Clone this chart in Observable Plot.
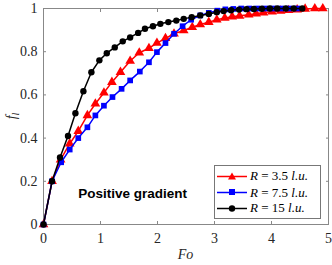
<!DOCTYPE html>
<html>
<head>
<meta charset="utf-8">
<script src="https://cdn.jsdelivr.net/npm/d3@7"></script>
<script src="https://cdn.jsdelivr.net/npm/@observablehq/plot@0.6"></script>
<style>
  body { margin: 0; background: #fff; }
  #wrap { position: relative; width: 332px; height: 265px; }
  #legend { position: absolute; left: 214px; top: 165px; width: 105px; height: 52px;
            border: 1px solid #777; background: #fff; font-family: "Liberation Serif", "Times New Roman", "DejaVu Serif", serif;
            font-size: 13px; color: #000; }
  .row { position: absolute; left: 0; height: 16px; display: flex; align-items: center; }
  .row svg { margin-left: 2px; }
  .row span { margin-left: 3px; white-space: nowrap; }
  i { font-style: italic; }
</style>
</head>
<body>
<div id="wrap"></div>
<script>
// Series R = 3.5 l.u. (red, triangles)
const foR35 = [0, 0.15, 0.30, 0.46, 0.61, 0.77, 0.91, 1.06, 1.20, 1.35, 1.52, 1.68, 1.85, 1.99, 2.14, 2.29, 2.46, 2.61, 2.75, 2.90, 3.04, 3.18, 3.31, 3.44, 3.60, 3.73, 3.86, 4.01, 4.16, 4.30, 4.45, 4.59, 4.76, 4.90];
const fR35  = [0, 0.20, 0.30, 0.374, 0.432, 0.505, 0.559, 0.61, 0.659, 0.705, 0.757, 0.795, 0.816, 0.84, 0.862, 0.883, 0.898, 0.913, 0.926, 0.937, 0.948, 0.956, 0.962, 0.966, 0.971, 0.976, 0.981, 0.985, 0.989, 0.992, 0.995, 0.998, 1.0, 1.0];
// Series R = 7.5 l.u. (blue, squares)
const foR75 = [0, 0.15, 0.31, 0.46, 0.61, 0.77, 0.91, 1.06, 1.21, 1.37, 1.52, 1.69, 1.85, 1.99, 2.14, 2.29, 2.44, 2.59, 2.75, 2.90, 3.05, 3.19, 3.33, 3.47, 3.61, 3.75, 3.89, 4.03, 4.17, 4.31, 4.45];
const fR75  = [0, 0.20, 0.288, 0.347, 0.40, 0.45, 0.505, 0.55, 0.59, 0.628, 0.667, 0.708, 0.751, 0.798, 0.84, 0.883, 0.918, 0.948, 0.968, 0.98, 0.99, 0.996, 0.998, 1, 1, 1, 1, 1, 1, 1, 1];
// Series R = 15 l.u. (black, circles)
const foR15 = [0, 0.15, 0.29, 0.43, 0.56, 0.70, 0.84, 0.98, 1.11, 1.25, 1.39, 1.52, 1.66, 1.78, 1.92, 2.05, 2.19, 2.33, 2.46, 2.60, 2.75, 2.90, 3.04, 3.16, 3.29, 3.43, 3.56, 3.69, 3.83, 3.97, 4.10, 4.25, 4.39, 4.54];
const fR15  = [0, 0.20, 0.31, 0.41, 0.515, 0.617, 0.705, 0.76, 0.793, 0.82, 0.848, 0.866, 0.887, 0.906, 0.918, 0.929, 0.937, 0.944, 0.952, 0.960, 0.968, 0.975, 0.983, 0.988, 0.992, 0.995, 0.997, 0.998, 0.999, 1, 1, 1, 1, 1];

const xTicks = [0, 1, 2, 3, 4, 5];
const yTicks = [0, 0.2, 0.4, 0.6, 0.8, 1];
const seriesNames = ["R = 3.5 l.u.", "R = 7.5 l.u.", "R = 15 l.u."];
const annotation = "Positive gradient";

const SERIF = "Liberation Serif, Times New Roman, DejaVu Serif, serif";
const toRows = (xs, ys) => xs.map((x, i) => ({x, y: ys[i]}));
const red = toRows(foR35, fR35), blue = toRows(foR75, fR75), black = toRows(foR15, fR15);

const plot = Plot.plot({
  width: 332, height: 265,
  marginLeft: 43, marginRight: 4, marginTop: 8, marginBottom: 41,
  style: {fontFamily: SERIF, fontSize: "14px", background: "#fff", color: "#262626"},
  x: {domain: [0, 5]},
  y: {domain: [0, 1]},
  marks: [
    Plot.frame({stroke: "#888"}),
    Plot.axisX(xTicks, {anchor: "bottom", tickSize: -3, tickPadding: 12, label: null, stroke: "#888", fill: "#262626", fontFamily: SERIF, fontSize: 14, tickFormat: d => String(d)}),
    Plot.axisX(xTicks, {anchor: "top", tickSize: -3, label: null, stroke: "#888", tickFormat: () => ""}),
    Plot.axisY(yTicks, {anchor: "left", tickSize: -3, tickPadding: 9, label: null, stroke: "#888", fill: "#262626", fontFamily: SERIF, fontSize: 14, tickFormat: d => String(d)}),
    Plot.axisY(yTicks, {anchor: "right", tickSize: -3, label: null, stroke: "#888", tickFormat: () => ""}),
    Plot.line(red, {x: "x", y: "y", stroke: "#ff0000", strokeWidth: 1.5}),
    Plot.dot(red, {x: "x", y: "y", symbol: "triangle", fill: "#ff0000", r: 3.6}),
    Plot.line(blue, {x: "x", y: "y", stroke: "#0000ff", strokeWidth: 1.5}),
    Plot.dot(blue, {x: "x", y: "y", symbol: "square", fill: "#0000ff", r: 3.2}),
    Plot.line(black, {x: "x", y: "y", stroke: "#000", strokeWidth: 1.5}),
    Plot.dot(black, {x: "x", y: "y", symbol: "circle", fill: "#000", r: 3.2}),
    Plot.text([annotation], {x: 0.61, y: 0.145, text: d => d, textAnchor: "start", fontFamily: "Liberation Sans, Arial, sans-serif", fontWeight: "bold", fontSize: 13.5, fill: "#000"})
  ]
});

const wrap = document.getElementById("wrap");
wrap.appendChild(plot);

// axis titles
const svg = d3.select(plot);
const yl = svg.append("text")
  .attr("transform", "translate(16,116) rotate(-90)")
  .attr("text-anchor", "middle")
  .attr("font-family", SERIF)
  .attr("font-size", 14)
  .attr("font-style", "italic")
  .attr("fill", "#262626");
yl.append("tspan").text("f");
yl.append("tspan").attr("font-size", 10).attr("dy", 3).text("l");

svg.append("text")
  .attr("x", 185.5).attr("y", 259)
  .attr("text-anchor", "middle")
  .attr("font-family", SERIF)
  .attr("font-size", 14)
  .attr("font-style", "italic")
  .attr("fill", "#262626")
  .text("Fo");

// legend
const legend = document.createElement("div");
legend.id = "legend";
const colors = ["#ff0000", "#0000ff", "#000000"];
const symbols = ["triangle", "square", "circle"];
const rowTops = [2, 18.5, 34];
seriesNames.forEach((name, i) => {
  const row = document.createElement("div");
  row.className = "row";
  row.style.top = rowTops[i] + "px";
  let marker;
  if (symbols[i] === "triangle") marker = `<path d="M15,1.5 L19,8.5 L11,8.5 Z" fill="${colors[i]}"/>`;
  else if (symbols[i] === "square") marker = `<rect x="12" y="2" width="6" height="6" fill="${colors[i]}"/>`;
  else marker = `<circle cx="15" cy="5.5" r="3.2" fill="${colors[i]}"/>`;
  const m = name.match(/^R = (\S+) l\.u\.$/);
  row.innerHTML = `<svg width="30" height="11"><line x1="0" x2="30" y1="5.5" y2="5.5" stroke="${colors[i]}" stroke-width="1.5"/>${marker}</svg>` +
    `<span><i>R</i> = ${m[1]} <i>l.u.</i></span>`;
  legend.appendChild(row);
});
wrap.appendChild(legend);
</script>
</body>
</html>
